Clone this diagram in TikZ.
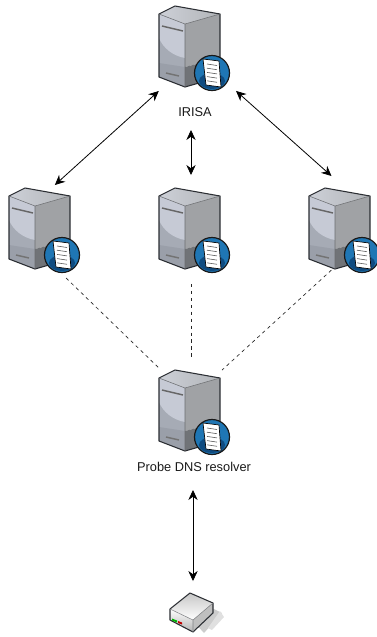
\documentclass[tikz,border=0pt]{standalone}
\usepackage{fontspec}
\setmainfont{Liberation Sans}
\usetikzlibrary{arrows.meta,calc}
\definecolor{frontHi}{HTML}{C6CAD5}
\definecolor{frontLo}{HTML}{A6ABB5}
\definecolor{frontDk}{HTML}{9A9FA9}
\definecolor{sideHi}{HTML}{A0A2A5}
\definecolor{sideLo}{HTML}{707377}
\definecolor{topL}{HTML}{CDD0D7}
\definecolor{topR}{HTML}{B2B5B9}
\definecolor{edgeD}{HTML}{2B2E33}
\definecolor{discB}{HTML}{1F76B4}
\definecolor{discD}{HTML}{0F4B80}
\tikzset{
  x=0.75pt,y=-0.75pt,
  hub/.style={inner sep=0,outer sep=0,minimum width=#1},
  lbl/.style={inner sep=0,outer sep=0,font=\fontsize{9.6}{11}\selectfont,text=black!90},
  link/.style={draw=black,line width=0.6pt,{Stealth[length=7.5pt,width=7pt]}-{Stealth[length=7.5pt,width=7pt]}},
  tie/.style={draw=black!85,line width=0.5pt,dash pattern=on 2.6pt off 2.6pt},
  server/.pic={
    \path[shade,left color=topL,right color=topR] (0,0) -- (16,-8) -- (61,0) -- (26,10) -- cycle;
    \fill[frontLo] (0,0) -- (26,10) -- (26,73) -- (0,63) -- cycle;
    \fill[frontHi] (0,0) -- (26,10) -- (26,44) .. controls (14,42) and (4,34) .. (0,24) -- cycle;
    \fill[frontDk] (0,49) -- (26,53) -- (26,73) -- (0,63) -- cycle;
    \fill[sideHi] (26,10) -- (61,0) -- (61,44) -- (26,53) -- cycle;
    \fill[sideLo] (26,53) -- (61,44) -- (61,63) -- (26,73) -- cycle;
    \draw[edgeD,line width=0.8pt,line join=round] (0,0) -- (16,-8) -- (61,0) -- (61,63) -- (26,73) -- (0,63) -- cycle;
    \draw[edgeD!70,line width=0.4pt] (0,0) -- (26,10) -- (61,0) (26,10) -- (26,73);
    \draw[black!60,line width=1.1pt] (3,12) -- (24,17);
    \draw[black!55,line width=1.1pt] (7,59) -- (20,62);
    \fill[discB] (53,59) circle (17.5);
    \fill[discD] (53,67) ellipse (13 and 8);
    \draw[black!90,line width=0.9pt] (53,59) circle (17.5);
    \fill[white,draw=black,line width=0.5pt] (44,45) -- (60,47) -- (62,73) -- (47,71) -- cycle;
    \foreach \k in {0,1,2,3,4}
      \draw[black!65,line width=0.45pt] ($(48,50)+(0,4.2*\k)$) -- ($(58,51.5)+(0,4.2*\k)$);
  },
  modemshape/.pic={
    \fill[black!20] (24,29) -- (44,16) -- (52,20) -- (34,40) -- cycle;
    \fill[black!12] (38,35) -- (50,18) -- (54,24) -- (42,37) -- cycle;
    \path[shade,top color=black!22,bottom color=white] (0,16) -- (20,0) -- (43,10) -- (23,27) -- cycle;
    \path[shade,top color=white,bottom color=black!30] (0,16) -- (23,27) -- (23,39) -- (0,27) -- cycle;
    \fill[black!25] (23,27) -- (43,10) -- (43,20) -- (23,39) -- cycle;
    \draw[edgeD,line width=0.8pt,line join=round] (0,16) -- (20,0) -- (43,10) -- (43,20) -- (23,39) -- (0,27) -- cycle;
    \draw[edgeD!60,line width=0.4pt] (0,16) -- (23,27) -- (43,10) (23,27) -- (23,39);
    \fill[green!70!black] (2,25.5) -- (7,27.5) -- (7,29.5) -- (2,27.5) -- cycle;
    \fill[red!75!black] (8,28) -- (12,29.5) -- (12,31.5) -- (8,30) -- cycle;
  }
}
\begin{document}
\begin{tikzpicture}
\useasboundingbox (0,0) rectangle (376,637);
% server artwork
\pic at (159,14) {server};
\pic at (9,196) {server};
\pic at (159,196) {server};
\pic at (309,196) {server};
\pic at (159,378) {server};
\pic at (170,593) {modemshape};
% anchor boxes (invisible extents of each device)
\node[hub=69pt,minimum height=64.5pt] (irisa) at (190,48) {};
\node[hub=53pt,minimum height=69.75pt] (west) at (37,231.5) {};
\node[hub=49.5pt,minimum height=81.75pt] (mid) at (191,229.5) {};
\node[hub=60pt,minimum height=70.5pt] (east) at (331.5,223) {};
\node[hub=46.5pt,minimum height=61.5pt] (probe) at (191,399) {};
\node[hub=30pt,minimum height=43.5pt] (modem) at (193,610) {};
% labels
\node[lbl,minimum height=27pt] (irisatext) at (195,112) {IRISA};
\node[lbl,minimum height=34.5pt] (probetext) at (194,467) {Probe DNS resolver};
% connectors
\draw[link] (irisa.234.2) -- (west.69.2);
\draw[link] (irisatext.south -| mid.north) -- (mid.north);
\draw[link] (irisa.-43.1) -- (east.north);
\draw[tie] (west.-58.9) -- (probe.136.9);
\draw[tie] (mid.south) -- (probe.north);
\draw[tie] (east.south) -- (probe.43.1);
\draw[link] (probetext.south -| modem.north) -- (modem.north);
\end{tikzpicture}
\end{document}
